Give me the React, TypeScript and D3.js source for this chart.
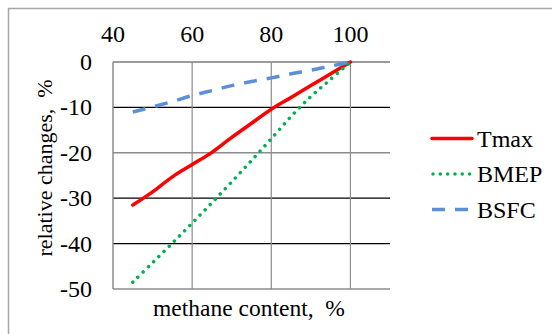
import React from 'react';
import * as d3 from 'd3';

// methane content, %
const methane = [45, 50, 55, 60, 65, 70, 75, 80, 85, 90, 95, 100];
const tmax = [-31.5, -28.6, -25.3, -22.6, -19.9, -16.6, -13.5, -10.4, -7.8, -5.2, -2.6, 0];
const bmep = [-48.5, -44.2, -39.9, -35.5, -31.0, -26.4, -21.7, -16.9, -12.0, -7.6, -3.8, 0];
const bsfc = [-11.0, -9.9, -8.7, -7.4, -6.3, -5.2, -4.3, -3.5, -2.6, -1.8, -0.9, 0];
const xTicks = [40, 60, 80, 100];
const yTicks = [0, -10, -20, -30, -40, -50];
const seriesNames = ['Tmax', 'BMEP', 'BSFC'];

const W = 552;
const H = 334;
const plot = { left: 113, right: 390, top: 62, bottom: 289 };
const textStyle = { fontFamily: 'Liberation Serif, DejaVu Serif, serif' };

export default function App() {
  const x = d3.scaleLinear().domain([40, 110]).range([plot.left, plot.right]);
  const y = d3.scaleLinear().domain([0, -50]).range([plot.top, plot.bottom]);

  const line = d3
    .line<[number, number]>()
    .x(d => x(d[0]))
    .y(d => y(d[1]))
    .curve(d3.curveCatmullRom.alpha(0.5));

  const series = [
    { name: seriesNames[0], values: tmax, color: '#ff0000', dash: undefined as string | undefined, cap: 'round' },
    { name: seriesNames[1], values: bmep, color: '#00b050', dash: '0.01 7.3', cap: 'round' },
    { name: seriesNames[2], values: bsfc, color: '#5b8fd8', dash: '13 10', cap: 'butt' },
  ];

  // excel drew some grid lines darker than others
  const gridColor = (v: number) => (v === -10 || v === -30 || v === -40 ? '#000' : '#8c8c8c');

  return (
    <svg width={W} height={H} style={{ position: 'absolute', left: 0, top: 0, background: '#fff' }}>
      <rect x={8.5} y={8.5} width={W + 10} height={H + 10} fill="none" stroke="#a6a6a6" strokeWidth={1.5} />

      {/* horizontal grid */}
      {yTicks.map(t => (
        <line key={'h' + t} x1={plot.left} x2={plot.right} y1={y(t)} y2={y(t)}
          stroke={gridColor(t)} strokeWidth={t === -20 || t === -50 ? 1.6 : 1.2} />
      ))}
      {/* vertical grid */}
      {xTicks.slice(1).map(t => (
        <line key={'v' + t} x1={x(t)} x2={x(t)} y1={plot.top} y2={plot.bottom} stroke="#8c8c8c" strokeWidth={1.2} />
      ))}
      <line x1={plot.left} x2={plot.left} y1={plot.top} y2={plot.bottom} stroke="#8c8c8c" strokeWidth={1.5} />
      <line x1={plot.left} x2={plot.right} y1={plot.top} y2={plot.top} stroke="#8c8c8c" strokeWidth={1.5} />

      {/* tick labels */}
      {xTicks.map(t => (
        <text key={'xt' + t} x={x(t)} y={42} textAnchor="middle" style={textStyle} fontSize={24} fill="#000">
          {t}
        </text>
      ))}
      {yTicks.map(t => (
        <text key={'yt' + t} x={92} y={y(t) + 8} textAnchor="end" style={textStyle} fontSize={24} fill="#000">
          {t}
        </text>
      ))}

      {/* axis titles */}
      <text x={249} y={316} textAnchor="middle" style={textStyle} fontSize={23.5} fill="#000" xmlSpace="preserve">
        methane content,  %
      </text>
      <text transform="translate(52,168) rotate(-90)" textAnchor="middle" style={textStyle} fontSize={22} fill="#000" xmlSpace="preserve">
        relative changes,  %
      </text>

      {/* series */}
      {series.map(s => (
        <path key={s.name} d={line(methane.map((m, i) => [m, s.values[i]] as [number, number])) || ''}
          fill="none" stroke={s.color} strokeWidth={3.5} strokeDasharray={s.dash}
          strokeLinecap={s.cap as any} strokeLinejoin="round" />
      ))}

      {/* legend */}
      {series.map((s, i) => {
        const ly = 138.5 + i * 35.5;
        return (
          <g key={'lg' + s.name}>
            <line x1={s.cap === 'round' && s.dash ? 433 : 432} x2={472} y1={ly} y2={ly} stroke={s.color} strokeWidth={3.5}
              strokeDasharray={s.dash} strokeLinecap={s.cap as any} />
            <text x={477} y={ly + 8} style={textStyle} fontSize={24} fill="#000">{s.name}</text>
          </g>
        );
      })}
    </svg>
  );
}
